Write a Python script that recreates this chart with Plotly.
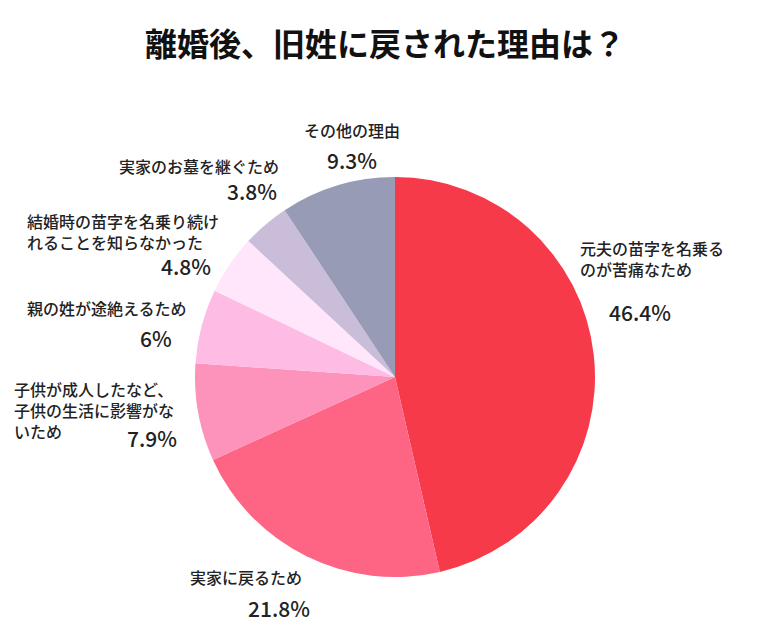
import plotly.graph_objects as go

title = "離婚後、旧姓に戻された理由は？"

reasons = [
    "元夫の苗字を名乗る<br>のが苦痛なため",
    "実家に戻るため",
    "子供が成人したなど、<br>子供の生活に影響がな<br>いため",
    "親の姓が途絶えるため",
    "結婚時の苗字を名乗り続け<br>れることを知らなかった",
    "実家のお墓を継ぐため",
    "その他の理由",
]
percents = [46.4, 21.8, 7.9, 6, 4.8, 3.8, 9.3]

colors = ["#F63A4A", "#FE6585", "#FD92BB", "#FEBBE4", "#FFE6FB", "#C9BDD9", "#979BB5"]

W, H = 768, 633
OFF = 8  # page body margin
FONT = "Noto Sans CJK JP"


def px(x):
    return (x - OFF) / W


def py(y):
    return 1 - (y - OFF) / H


# label placement in screen pixels: (label left x, label center y, pct center x, pct center y)
label_pos = [
    (578, 258, 640, 312),
    (188, 577, 279, 608),
    (12, 410, 152, 438),
    (25, 308, 156, 338),
    (25, 232, 186, 266),
    (117, 166, 252, 191),
    (302, 130, 352, 160),
]

cx, cy, r = 395, 377, 200

fig = go.Figure()
fig.add_trace(go.Pie(
    values=percents,
    labels=[s.replace("<br>", "") for s in reasons],
    marker=dict(colors=colors, line=dict(width=0)),
    sort=False,
    direction="clockwise",
    rotation=0,
    textinfo="none",
    hoverinfo="label+value",
    domain=dict(x=[px(cx - r), px(cx + r)], y=[py(cy + r), py(cy - r)]),
    showlegend=False,
))

annotations = []
for s, p, (lx, ly, qx, qy) in zip(reasons, percents, label_pos):
    annotations.append(dict(
        x=px(lx), y=py(ly), xref="paper", yref="paper",
        text=s, showarrow=False, xanchor="left", yanchor="middle", align="left",
        font=dict(family=FONT, size=16, color="#222222", weight=500),
    ))
    annotations.append(dict(
        x=px(qx), y=py(qy), xref="paper", yref="paper",
        text="%g%%" % p, showarrow=False, xanchor="center", yanchor="middle",
        font=dict(family=FONT, size=21, color="#222222", weight=500),
    ))

fig.update_layout(
    width=W, height=H,
    margin=dict(l=0, r=0, t=0, b=0),
    paper_bgcolor="white",
    title=dict(text="<b>" + title + "</b>", x=px(385), xanchor="center", y=py(45), yanchor="middle",
               font=dict(family=FONT, size=32, color="#111111")),
    annotations=annotations,
)

fig.write_html("out.html")
